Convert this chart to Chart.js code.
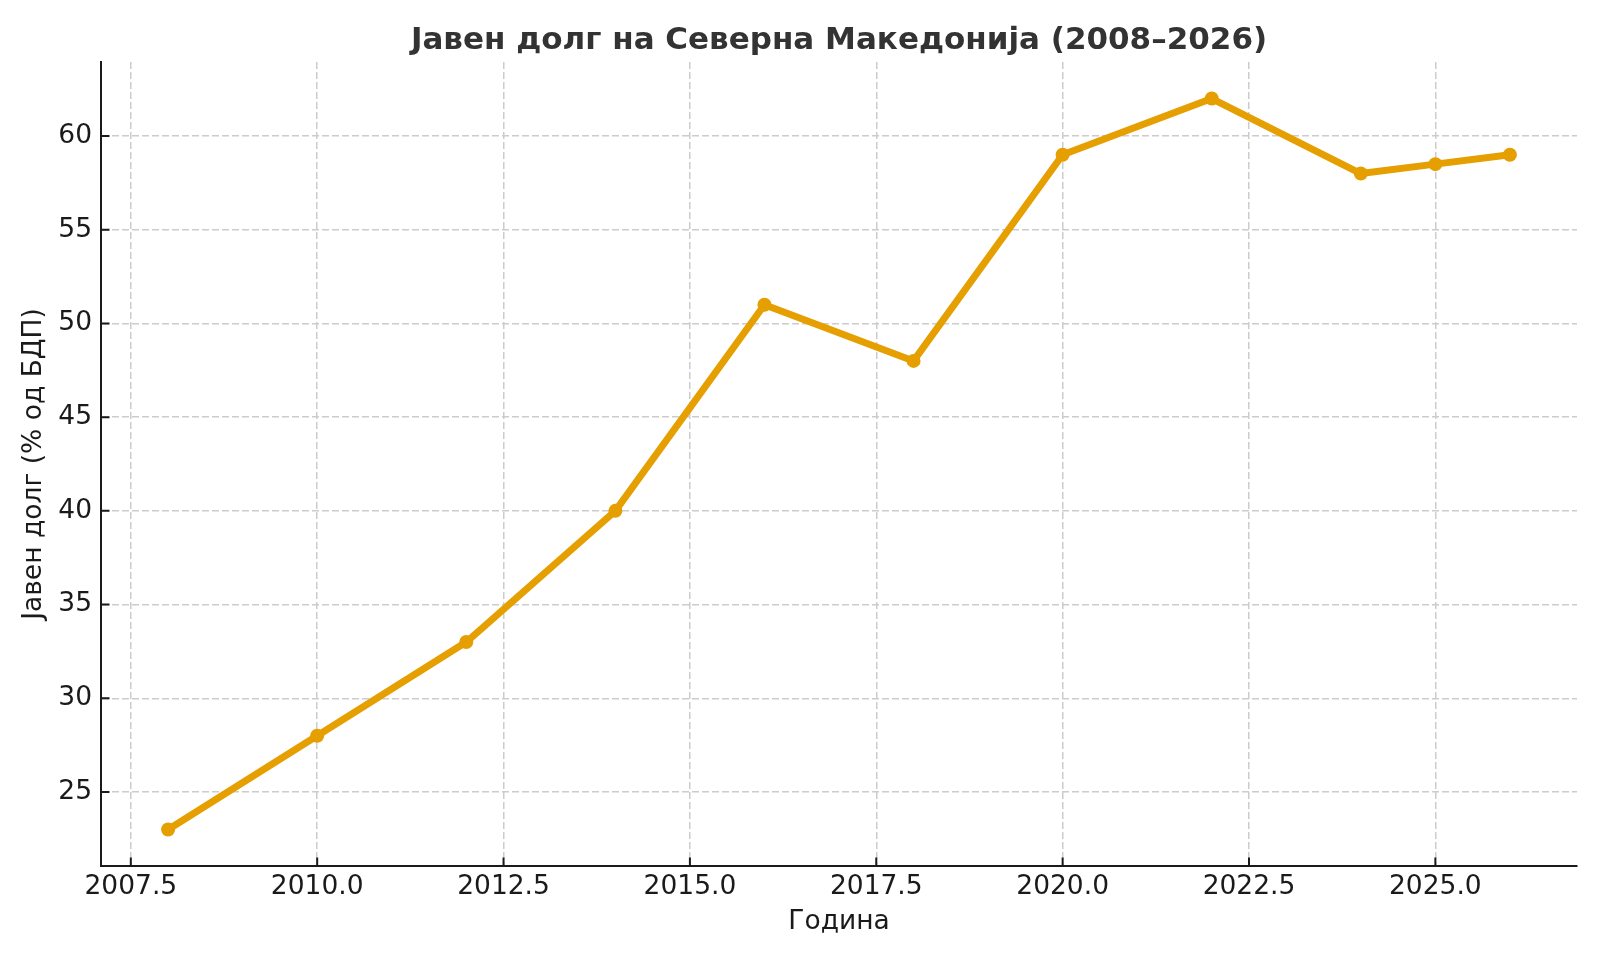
<!DOCTYPE html>
<html><head><meta charset="utf-8">
<script src="https://cdn.jsdelivr.net/npm/chart.js@4"></script>
<style>html,body{margin:0;padding:0;background:#fff;}canvas{display:block;}</style>
</head><body>
<canvas id="c" width="1600" height="960"></canvas>
<script>
const years = [2008, 2010, 2012, 2014, 2016, 2018, 2020, 2022, 2024, 2025, 2026];
const debt = [23, 28, 33, 40, 51, 48, 59, 62, 58, 58.5, 59];
const xTicks = [2007.5, 2010, 2012.5, 2015, 2017.5, 2020, 2022.5, 2025];
const yTicks = [25, 30, 35, 40, 45, 50, 55, 60];
const titleText = 'Јавен долг на Северна Македонија (2008–2026)';
const xLabel = 'Година';
const yLabel = 'Јавен долг (% од БДП)';

const FONT = "'DejaVu Sans', sans-serif";
const xSpan = Math.max(...years) - Math.min(...years);
const ySpan = Math.max(...debt) - Math.min(...debt);
const xMin = Math.min(...years) - 0.05 * xSpan, xMax = Math.max(...years) + 0.05 * xSpan;
const yMin = Math.min(...debt) - 0.05 * ySpan, yMax = Math.max(...debt) + 0.05 * ySpan;

const inwardTicks = {
  id: 'inwardTicks',
  afterDraw(chart) {
    const {ctx, chartArea, scales} = chart;
    ctx.save();
    ctx.strokeStyle = '#1a1a1a';
    ctx.lineWidth = 2;
    ctx.beginPath();
    xTicks.forEach(v => {
      const px = scales.x.getPixelForValue(v);
      ctx.moveTo(px, chartArea.bottom);
      ctx.lineTo(px, chartArea.bottom - 8.5);
    });
    yTicks.forEach(v => {
      const py = scales.y.getPixelForValue(v);
      ctx.moveTo(chartArea.left, py);
      ctx.lineTo(chartArea.left + 8.5, py);
    });
    ctx.stroke();
    ctx.restore();
  }
};

new Chart(document.getElementById('c'), {
  type: 'line',
  data: {
    datasets: [{
      data: years.map((y, i) => ({x: y, y: debt[i]})),
      borderColor: '#E69F00',
      backgroundColor: '#E69F00',
      borderWidth: 7,
      borderJoinStyle: 'round',
      borderCapStyle: 'round',
      pointRadius: 7,
      pointHoverRadius: 7,
      pointBorderWidth: 0,
      pointBackgroundColor: '#E69F00',
      tension: 0,
      fill: false
    }]
  },
  options: {
    responsive: false,
    animation: false,
    devicePixelRatio: 1,
    layout: {padding: {left: 0, right: 23, top: 0, bottom: 0}},
    plugins: {
      legend: {display: false},
      tooltip: {enabled: false},
      title: {
        display: true,
        text: titleText,
        fullSize: false,
        color: '#333',
        font: {family: FONT, size: 31, weight: 'bold', lineHeight: 1.2},
        padding: {top: 22.4, bottom: 2.4}
      }
    },
    scales: {
      x: {
        type: 'linear',
        min: xMin,
        max: xMax,
        afterBuildTicks: s => { s.ticks = xTicks.map(v => ({value: v})); },
        afterFit: s => { s.height = 94; },
        ticks: {
          font: {family: FONT, size: 26.5},
          color: '#1a1a1a',
          padding: 5.5,
          maxRotation: 0,
          autoSkip: false,
          callback: v => Number(v).toFixed(1)
        },
        grid: {color: '#cccccc', lineWidth: 1.5, drawTicks: false},
        border: {display: true, color: '#1a1a1a', width: 2, dash: [7, 3]},
        title: {
          display: true, text: xLabel, color: '#1a1a1a',
          font: {family: FONT, size: 26.5, lineHeight: 1.2},
          padding: {top: 0, bottom: 22}
        }
      },
      y: {
        type: 'linear',
        min: yMin,
        max: yMax,
        afterBuildTicks: s => { s.ticks = yTicks.map(v => ({value: v})); },
        afterFit: s => { s.width = 101; },
        ticks: {
          font: {family: FONT, size: 26.5},
          color: '#1a1a1a',
          padding: 9,
          autoSkip: false,
          callback: v => String(v)
        },
        grid: {color: '#cccccc', lineWidth: 1.5, drawTicks: false},
        border: {display: true, color: '#1a1a1a', width: 2, dash: [7, 3]},
        title: {
          display: true, text: yLabel, color: '#1a1a1a',
          font: {family: FONT, size: 26.5, lineHeight: 1.2},
          padding: {top: 18.6, bottom: 0}
        }
      }
    }
  },
  plugins: [inwardTicks]
});
</script>
</body></html>
